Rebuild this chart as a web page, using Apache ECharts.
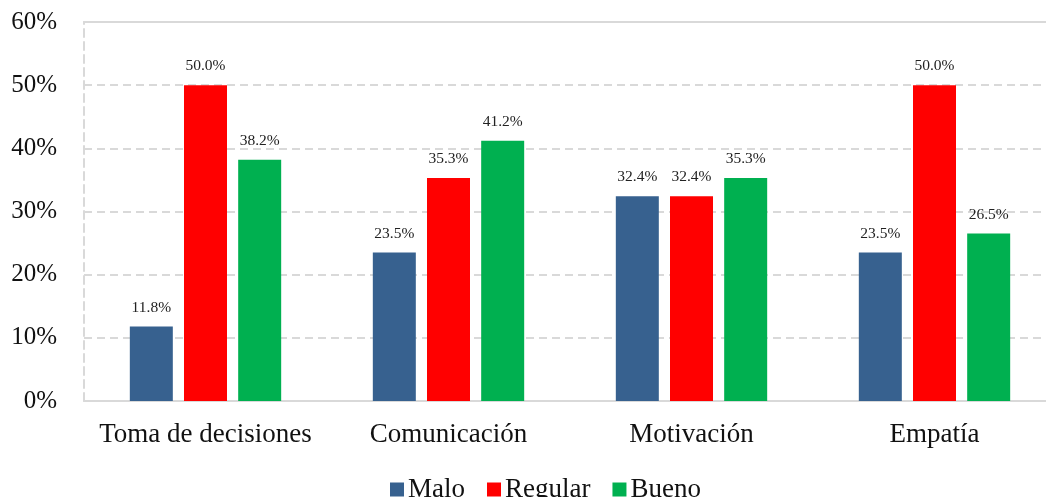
<!DOCTYPE html>
<html>
<head>
<meta charset="utf-8">
<script src="https://cdn.jsdelivr.net/npm/echarts@6/dist/echarts.min.js"></script>
<style>
  html, body { margin: 0; padding: 0; background: #fff; overflow: hidden; }
  #chart { width: 1066px; height: 497px; }
</style>
</head>
<body>
<div id="chart"></div>
<script>
// Dimensiones evaluadas y porcentaje por nivel
const categories = ['Toma de decisiones', 'Comunicación', 'Motivación', 'Empatía'];
const malo = [11.8, 23.5, 32.4, 23.5];
const regular = [50.0, 35.3, 32.4, 50.0];
const bueno = [38.2, 41.2, 35.3, 26.5];
const seriesNames = ['Malo', 'Regular', 'Bueno'];
const seriesColors = ['#37618f', '#ff0000', '#00b050'];

const font = '"Liberation Serif", "Times New Roman", serif';
const gridColor = '#d9d9d9';

function barSeries(name, data, color) {
  return {
    name: name,
    type: 'bar',
    data: data,
    barWidth: 43,
    barGap: '26%',
    itemStyle: { color: color },
    label: {
      show: true,
      position: 'top',
      distance: 11,
      formatter: p => p.value.toFixed(1) + '%',
      fontFamily: font,
      fontSize: 15.5,
      color: '#222'
    }
  };
}

const chart = echarts.init(document.getElementById('chart'));
chart.setOption({
  animation: false,
  textStyle: { fontFamily: font },
  grid: { left: 84, width: 972, top: 22, bottom: 96, containLabel: false },
  legend: {
    data: seriesNames,
    top: 471,
    left: 385,
    icon: 'rect',
    itemWidth: 14,
    itemHeight: 14,
    itemGap: 22,
    textStyle: { fontFamily: font, fontSize: 27, color: '#111', padding: [0, 0, 0, -1] }
  },
  xAxis: [
    {
      type: 'category',
      data: categories,
      axisLine: { lineStyle: { color: gridColor, width: 2 } },
      axisTick: { show: false },
      axisLabel: { fontFamily: font, fontSize: 27, color: '#111', margin: 20, interval: 0 }
    },
    {
      type: 'category',
      position: 'top',
      data: categories,
      axisLine: { show: true, lineStyle: { color: gridColor, width: 2 } },
      axisTick: { show: false },
      axisLabel: { show: false }
    }
  ],
  yAxis: {
    type: 'value',
    min: 0,
    max: 60,
    interval: 10,
    axisLine: { show: true, lineStyle: { color: gridColor, width: 2, type: [8, 5] } },
    axisTick: { show: false },
    axisLabel: {
      formatter: v => v + '%',
      fontFamily: font,
      fontSize: 25,
      color: '#111',
      margin: 27
    },
    splitLine: { lineStyle: { color: gridColor, width: 2, type: [8, 5] } }
  },
  series: [
    barSeries(seriesNames[0], malo, seriesColors[0]),
    barSeries(seriesNames[1], regular, seriesColors[1]),
    barSeries(seriesNames[2], bueno, seriesColors[2])
  ]
});
</script>
</body>
</html>
